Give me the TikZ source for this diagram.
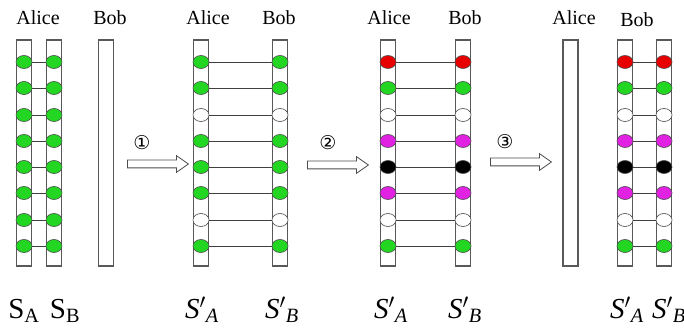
\documentclass[tikz,border=0pt]{standalone}
\usepackage{fontspec}
\setmainfont{Liberation Serif}
\newfontfamily\timesfont{Liberation Serif}
\newfontfamily\circfont{DejaVu Sans}
\usepackage{tikz}
\usetikzlibrary{shapes.geometric,shapes.arrows}
\definecolor{qgreen}{RGB}{34,214,34}
\definecolor{qred}{RGB}{232,0,0}
\definecolor{qpink}{RGB}{226,34,226}

\begin{document}
\begin{tikzpicture}[x=1pt,y=1pt,
    every node/.style={font=\timesfont\fontsize{20}{22}\selectfont},
    slot/.style={draw=black!65,line width=1.1pt},
    qubit/.style={ellipse,draw=black!70,line width=0.6pt,minimum width=16pt,minimum height=13pt,inner sep=0pt},
    link/.style={draw=black!75,line width=0.8pt},
    hollow/.style={single arrow,draw=black!70,fill=white,line width=0.8pt,inner sep=0pt,inner ysep=3.5pt,
                   minimum height=61pt,single arrow head extend=4.5pt,single arrow tip angle=70,anchor=tail},
    num/.style={font=\circfont\fontsize{19}{20}\selectfont},
    big/.style={anchor=base,font=\timesfont\fontsize{29}{30}\selectfont}]
      \useasboundingbox (0,0) rectangle (684,-328);
      %%%%%%%%%%%%%%%%%%%%%%%%%%%%%%%%%%%%%%%%%%%%%%%
      \node[anchor=base] at (38,-25)  (al1) {Alice};
      \node[anchor=base] at (110,-25) (bo1) {Bob};
      \draw[slot] (16.5,-40) rectangle (31.5,-266)
                  (46.5,-40) rectangle (61.5,-266)
                  (98.5,-40) rectangle (113.5,-266);
      \node[qubit,fill=qgreen] at (24,-62)  (a1) {};
      \node[qubit,fill=qgreen] at (24,-88)  (a2) {};
      \node[qubit,fill=qgreen] at (24,-115) (a3) {};
      \node[qubit,fill=qgreen] at (24,-141) (a4) {};
      \node[qubit,fill=qgreen] at (24,-167) (a5) {};
      \node[qubit,fill=qgreen] at (24,-193) (a6) {};
      \node[qubit,fill=qgreen] at (24,-220) (a7) {};
      \node[qubit,fill=qgreen] at (24,-246) (a8) {};
      \node[qubit,fill=qgreen] at (54,-62)  (b1) {};
      \node[qubit,fill=qgreen] at (54,-88)  (b2) {};
      \node[qubit,fill=qgreen] at (54,-115) (b3) {};
      \node[qubit,fill=qgreen] at (54,-141) (b4) {};
      \node[qubit,fill=qgreen] at (54,-167) (b5) {};
      \node[qubit,fill=qgreen] at (54,-193) (b6) {};
      \node[qubit,fill=qgreen] at (54,-220) (b7) {};
      \node[qubit,fill=qgreen] at (54,-246) (b8) {};
      \draw[link] (a1) -- (b1) (a2) -- (b2) (a3) -- (b3) (a4) -- (b4)
                  (a5) -- (b5) (a6) -- (b6) (a7) -- (b7) (a8) -- (b8);
      \node[big] at (24,-318) (sa) {S\textsubscript{A}};
      \node[big] at (65,-318) (sb) {S\textsubscript{B}};
      %%%%%%%%%%%%%%%%%%%%%%%%%%%%%%%%%%%%%%%%%%%%%%%
      \node[num] at (142,-143) (n1) {①};
      \node[hollow] at (127,-164) (go1) {};
      %%%%%%%%%%%%%%%%%%%%%%%%%%%%%%%%%%%%%%%%%%%%%%%
      \node[anchor=base] at (208,-25) (al2) {Alice};
      \node[anchor=base] at (279,-25) (bo2) {Bob};
      \draw[slot] (193.5,-40) rectangle (208.5,-266)
                  (272.5,-40) rectangle (287.5,-266);
      \node[qubit,fill=qgreen] at (201,-62)  (c1) {};
      \node[qubit,fill=qgreen] at (201,-88)  (c2) {};
      \node[qubit,fill=white]  at (201,-115) (c3) {};
      \node[qubit,fill=qgreen] at (201,-141) (c4) {};
      \node[qubit,fill=qgreen] at (201,-167) (c5) {};
      \node[qubit,fill=qgreen] at (201,-193) (c6) {};
      \node[qubit,fill=white]  at (201,-220) (c7) {};
      \node[qubit,fill=qgreen] at (201,-246) (c8) {};
      \node[qubit,fill=qgreen] at (280,-62)  (d1) {};
      \node[qubit,fill=qgreen] at (280,-88)  (d2) {};
      \node[qubit,fill=white]  at (280,-115) (d3) {};
      \node[qubit,fill=qgreen] at (280,-141) (d4) {};
      \node[qubit,fill=qgreen] at (280,-167) (d5) {};
      \node[qubit,fill=qgreen] at (280,-193) (d6) {};
      \node[qubit,fill=white]  at (280,-220) (d7) {};
      \node[qubit,fill=qgreen] at (280,-246) (d8) {};
      \draw[link] (c1) -- (d1) (c2) -- (d2) (c3) -- (d3) (c4) -- (d4)
                  (c5) -- (d5) (c6) -- (d6) (c7) -- (d7) (c8) -- (d8);
      \node[big] at (202,-318) (sa2) {\textit{S}$'$\textsubscript{\textit{A}}};
      \node[big] at (282,-318) (sb2) {\textit{S}$'$\textsubscript{\textit{B}}};
      %%%%%%%%%%%%%%%%%%%%%%%%%%%%%%%%%%%%%%%%%%%%%%%
      \node[num] at (328,-143) (n2) {②};
      \node[hollow] at (307,-165) (go2) {};
      %%%%%%%%%%%%%%%%%%%%%%%%%%%%%%%%%%%%%%%%%%%%%%%
      \node[anchor=base] at (389,-25) (al3) {Alice};
      \node[anchor=base] at (465,-25) (bo3) {Bob};
      \draw[slot] (380.5,-40) rectangle (395.5,-266)
                  (455.5,-40) rectangle (470.5,-266);
      \node[qubit,fill=qred]   at (388,-62)  (e1) {};
      \node[qubit,fill=qgreen] at (388,-88)  (e2) {};
      \node[qubit,fill=white]  at (388,-115) (e3) {};
      \node[qubit,fill=qpink]  at (388,-141) (e4) {};
      \node[qubit,fill=black]  at (388,-167) (e5) {};
      \node[qubit,fill=qpink]  at (388,-193) (e6) {};
      \node[qubit,fill=white]  at (388,-220) (e7) {};
      \node[qubit,fill=qgreen] at (388,-246) (e8) {};
      \node[qubit,fill=qred]   at (463,-62)  (f1) {};
      \node[qubit,fill=qgreen] at (463,-88)  (f2) {};
      \node[qubit,fill=white]  at (463,-115) (f3) {};
      \node[qubit,fill=qpink]  at (463,-141) (f4) {};
      \node[qubit,fill=black]  at (463,-167) (f5) {};
      \node[qubit,fill=qpink]  at (463,-193) (f6) {};
      \node[qubit,fill=white]  at (463,-220) (f7) {};
      \node[qubit,fill=qgreen] at (463,-246) (f8) {};
      \draw[link] (e1) -- (f1) (e2) -- (f2) (e3) -- (f3) (e4) -- (f4)
                  (e5) -- (f5) (e6) -- (f6) (e7) -- (f7) (e8) -- (f8);
      \node[big] at (391,-318) (sa3) {\textit{S}$'$\textsubscript{\textit{A}}};
      \node[big] at (465,-318) (sb3) {\textit{S}$'$\textsubscript{\textit{B}}};
      %%%%%%%%%%%%%%%%%%%%%%%%%%%%%%%%%%%%%%%%%%%%%%%
      \node[num] at (505,-142) (n3) {③};
      \node[hollow] at (490,-162) (go3) {};
      %%%%%%%%%%%%%%%%%%%%%%%%%%%%%%%%%%%%%%%%%%%%%%%
      \node[anchor=base] at (574,-25) (al4) {Alice};
      \node[anchor=base] at (637,-27) (bo4) {Bob};
      \draw[slot] (563,-40) rectangle (578,-266)
                  (617.5,-40) rectangle (632.5,-266)
                  (656.5,-40) rectangle (671.5,-266);
      \node[qubit,fill=qred]   at (625,-62)  (g1) {};
      \node[qubit,fill=qgreen] at (625,-88)  (g2) {};
      \node[qubit,fill=white]  at (625,-115) (g3) {};
      \node[qubit,fill=qpink]  at (625,-141) (g4) {};
      \node[qubit,fill=black]  at (625,-167) (g5) {};
      \node[qubit,fill=qpink]  at (625,-193) (g6) {};
      \node[qubit,fill=white]  at (625,-220) (g7) {};
      \node[qubit,fill=qgreen] at (625,-246) (g8) {};
      \node[qubit,fill=qred]   at (664,-62)  (h1) {};
      \node[qubit,fill=qgreen] at (664,-88)  (h2) {};
      \node[qubit,fill=white]  at (664,-115) (h3) {};
      \node[qubit,fill=qpink]  at (664,-141) (h4) {};
      \node[qubit,fill=black]  at (664,-167) (h5) {};
      \node[qubit,fill=qpink]  at (664,-193) (h6) {};
      \node[qubit,fill=white]  at (664,-220) (h7) {};
      \node[qubit,fill=qgreen] at (664,-246) (h8) {};
      \draw[link] (g1) -- (h1) (g2) -- (h2) (g3) -- (h3) (g4) -- (h4)
                  (g5) -- (h5) (g6) -- (h6) (g7) -- (h7) (g8) -- (h8);
      \node[big] at (627,-318) (sa4) {\textit{S}$'$\textsubscript{\textit{A}}};
      \node[big] at (669,-318) (sb4) {\textit{S}$'$\textsubscript{\textit{B}}};
      %%%%%%%%%%%%%%%%%%%%%%%%%%%%%%%%%%%%%%%%%%%%%%%
\end{tikzpicture}
\end{document}
